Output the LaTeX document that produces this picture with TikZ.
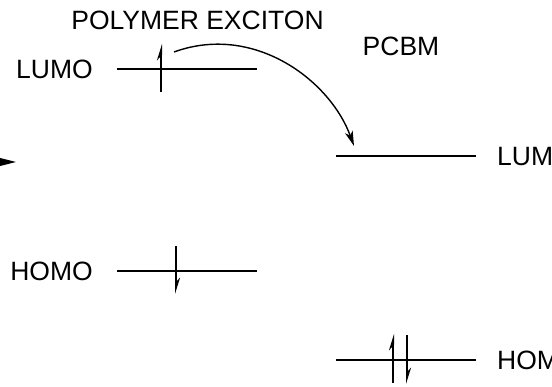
\documentclass[tikz,border=0pt]{standalone}
\usepackage{fontspec}
\setmainfont{Liberation Sans}
\usepackage{tikz}
\usetikzlibrary{arrows.meta, positioning}
\tikzstyle{level} = [
  line width=2.2pt, color=black
]
\tikzstyle{spin} = [
  -{Stealth[left, length=13pt, width=8pt]}, line width=2pt
]
\tikzstyle{caption} = [
  inner sep=0pt, font=\fontsize{26.5}{30}\selectfont
]
\tikzstyle{transfer} = [
  -{Stealth[length=15pt, width=8pt, inset=4pt]}, line width=1.4pt
]
\tikzstyle{axis} = [
  -{Stealth[length=28pt, width=14pt]}, line width=2pt
]

\begin{document}
\begin{tikzpicture}[x=1pt, y=1pt]

  \clip (0,0) rectangle (552,-387);

  % polymer levels
  \coordinate (plumoA) at (117,-69);
  \coordinate (plumoB) at (257,-69);
  \coordinate (phomoA) at (117,-271);
  \coordinate (phomoB) at (257,-271);

  % PCBM levels
  \coordinate (clumoA) at (336,-156);
  \coordinate (clumoB) at (476,-156);
  \coordinate (chomoA) at (336,-360);
  \coordinate (chomoB) at (476,-360);

  \draw[level] (plumoA) -- (plumoB);
  \draw[level] (phomoA) -- (phomoB);
  \draw[level] (clumoA) -- (clumoB);
  \draw[level] (chomoA) -- (chomoB);

  \node[caption] (exciton) at (197.5,-20.5) {POLYMER EXCITON};
  \node[caption] (pcbm)    at (401,-46.5)   {PCBM};
  \node[caption, left=24pt of plumoA]  (plumolbl) {LUMO};
  \node[caption, left=24pt of phomoA]  (phomolbl) {HOMO};
  \node[caption, right=21pt of clumoB] (clumolbl) {LUMO};
  \node[caption, right=21pt of chomoB] (chomolbl) {HOMO};

  % spins
  \coordinate (eupA)  at (161,-92);
  \coordinate (eupB)  at (161,-44);
  \coordinate (hdnA)  at (176,-246);
  \coordinate (hdnB)  at (176,-294);
  \coordinate (cupA)  at (393,-383);
  \coordinate (cupB)  at (393,-334);
  \coordinate (cdnA)  at (407,-335);
  \coordinate (cdnB)  at (407,-384);

  \draw[spin] (eupA) -- (eupB);
  \draw[spin] (hdnA) -- (hdnB);
  \draw[spin] (cupA) -- (cupB);
  \draw[spin] (cdnA) -- (cdnB);

  % electron transfer
  \coordinate (xferA) at (174,-52);
  \coordinate (xferB) at (354,-146);
  \draw[transfer] (xferA) .. controls +(20:85) and +(110:70) .. (xferB);

  % energy axis, cut by the frame
  \coordinate (axisA) at (-60,-162);
  \coordinate (axisB) at (16,-162);
  \draw[axis] (axisA) -- (axisB);

\end{tikzpicture}
\end{document}
